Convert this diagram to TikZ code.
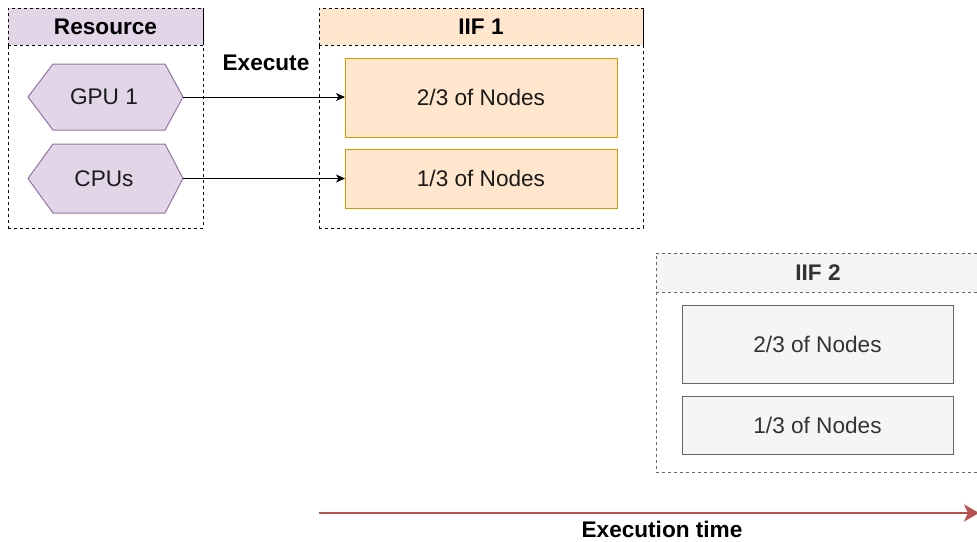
\documentclass[tikz,border=0pt]{standalone}
\usepackage{fontspec}
\setmainfont{Liberation Sans}
\usetikzlibrary{arrows.meta}

\definecolor{purpfill}{HTML}{E1D5E7}
\definecolor{purpline}{HTML}{9673A6}
\definecolor{orfill}{HTML}{FFE6CC}
\definecolor{orline}{HTML}{D79B00}
\definecolor{grfill}{HTML}{F5F5F5}
\definecolor{grline}{HTML}{666666}
\definecolor{grtext}{HTML}{333333}
\definecolor{timered}{HTML}{B85450}
\definecolor{bodytext}{HTML}{1A1A1A}

\begin{document}
\begin{tikzpicture}[x=1pt,y=-1pt,
  font=\fontsize{22.6}{26}\selectfont,
  every node/.style={inner sep=0pt, outer sep=0pt},
  container/.style={draw=black, dash pattern=on 3pt off 3pt, line width=0.8pt},
  header/.style={container, font=\fontsize{22.6}{26}\selectfont\bfseries},
  orbox/.style={draw=orline, fill=orfill, line width=1pt, text=bodytext,
    minimum width=272, minimum height=#1},
  grbox/.style={draw=grline, fill=grfill, line width=1pt, text=grtext,
    minimum width=271, minimum height=#1},
  hexshape/.style={draw=purpline, fill=purpfill, line width=1pt},
  hexlabel/.style={text=bodytext},
  conn/.style={draw=black, line width=1pt, -{Stealth[length=9pt,width=8pt,inset=2.5pt]}},
  boldlabel/.style={font=\fontsize{22.6}{26}\selectfont\bfseries}
]
\useasboundingbox (0,0) rectangle (977,541);

% Resource column
\node[container, minimum width=195, minimum height=220] (res) at (105.5,118) {};
\node[header, fill=purpfill, minimum width=195, minimum height=37] (reshead) at (105.5,26.5) {Resource};

% hexagonal resource shapes
\path[hexshape] (28,97) -- (53,64) -- (165,64) -- (183,97) -- (165,130) -- (53,130) -- cycle;
\node[hexlabel] (gpu) at (104,97) {GPU 1};
\coordinate (gpu-tip) at (183,97);

\path[hexshape] (28,178.5) -- (53,144) -- (165,144) -- (183,178.5) -- (165,213) -- (53,213) -- cycle;
\node[hexlabel] (cpu) at (104,178.5) {CPUs};
\coordinate (cpu-tip) at (183,178.5);

\node[boldlabel] (exec) at (266,63) {Execute};

% IIF 1
\node[container, minimum width=324, minimum height=220] (iif1) at (481,118) {};
\node[header, fill=orfill, minimum width=324, minimum height=37] (iif1head) at (481,26.5) {IIF 1};
\node[orbox=79] (a1) at (481,97.5) {2/3 of Nodes};
\node[orbox=59] (a2) at (481,178.5) {1/3 of Nodes};

\draw[conn] (gpu-tip) -- (gpu-tip -| a1.west);
\draw[conn] (cpu-tip) -- (cpu-tip -| a2.west);

% IIF 2
\node[container, draw=grline, minimum width=324, minimum height=219] (iif2) at (818,362.5) {};
\node[header, draw=grline, fill=grfill, text=grtext, minimum width=324, minimum height=39] (iif2head) at (818,272.5) {IIF 2};
\node[grbox=78] (b1) at (817.5,344) {2/3 of Nodes};
\node[grbox=58] (b2) at (817.5,425) {1/3 of Nodes};

% time axis
\coordinate (t0) at (319,513);
\coordinate (t1) at (979,513);
\draw[draw=timered, line width=2pt, -{Stealth[length=15pt,width=17pt,inset=4pt]}] (t0) -- (t1);
\node[boldlabel] (timelabel) at (662,529.5) {Execution time};
\end{tikzpicture}
\end{document}
